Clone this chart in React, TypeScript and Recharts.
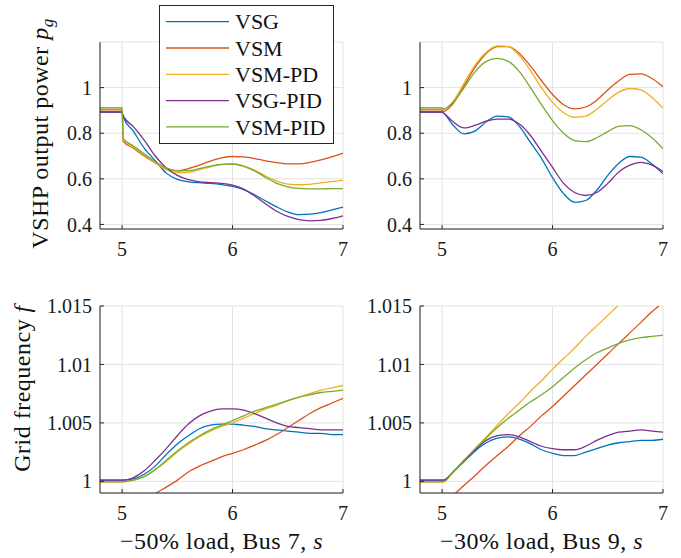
import React from 'react';
import { LineChart, Line, XAxis, YAxis, CartesianGrid, Legend } from 'recharts';

// sample times (s); 5.01 is the sample right after the load step
const time = [4.8, 4.9, 5, 5.01, 5.1, 5.2, 5.3, 5.4, 5.5, 5.6, 5.7, 5.8, 5.9, 6, 6.1, 6.2, 6.3, 6.4, 6.5, 6.6, 6.7, 6.8, 6.9, 7];

const seriesNames = ['VSG', 'VSM', 'VSM-PD', 'VSG-PID', 'VSM-PID'];
const colors = ['#0072BD', '#D95319', '#EDB120', '#7E2F8E', '#77AC30'];

const xTicks = [5, 6, 7];
const powerTicks = [0.4, 0.6, 0.8, 1];
const freqTicks = [1, 1.005, 1.01, 1.015];

// VSHP output power, -50% load at bus 7
const powerBus7Vsg = [0.893, 0.893, 0.893, 0.87, 0.81, 0.735, 0.68, 0.625, 0.598, 0.587, 0.583, 0.58, 0.575, 0.567, 0.553, 0.53, 0.503, 0.477, 0.455, 0.443, 0.445, 0.452, 0.464, 0.476];
const powerBus7Vsm = [0.902, 0.902, 0.902, 0.764, 0.735, 0.7, 0.67, 0.645, 0.636, 0.645, 0.66, 0.678, 0.692, 0.698, 0.696, 0.689, 0.679, 0.671, 0.666, 0.666, 0.672, 0.683, 0.697, 0.712];
const powerBus7VsmPd = [0.911, 0.911, 0.911, 0.77, 0.74, 0.705, 0.67, 0.64, 0.627, 0.628, 0.64, 0.653, 0.662, 0.665, 0.657, 0.638, 0.612, 0.59, 0.577, 0.574, 0.576, 0.582, 0.588, 0.593];
const powerBus7VsgPid = [0.893, 0.893, 0.893, 0.876, 0.83, 0.77, 0.7, 0.648, 0.615, 0.596, 0.587, 0.583, 0.58, 0.572, 0.555, 0.525, 0.49, 0.458, 0.435, 0.421, 0.416, 0.418, 0.426, 0.438];
const powerBus7VsmPid = [0.911, 0.911, 0.911, 0.776, 0.745, 0.71, 0.675, 0.648, 0.635, 0.636, 0.645, 0.656, 0.663, 0.665, 0.655, 0.635, 0.606, 0.58, 0.565, 0.558, 0.556, 0.556, 0.557, 0.557];

// VSHP output power, -30% load at bus 9
const powerBus9Vsg = [0.893, 0.893, 0.893, 0.89, 0.835, 0.797, 0.81, 0.85, 0.875, 0.872, 0.83, 0.76, 0.69, 0.605, 0.535, 0.497, 0.505, 0.55, 0.615, 0.668, 0.698, 0.695, 0.665, 0.622];
const powerBus9Vsm = [0.902, 0.902, 0.902, 0.895, 0.93, 1.01, 1.09, 1.15, 1.18, 1.18, 1.15, 1.095, 1.03, 0.97, 0.925, 0.907, 0.915, 0.945, 0.99, 1.03, 1.058, 1.06, 1.04, 1.004];
const powerBus9VsmPd = [0.911, 0.911, 0.911, 0.905, 0.94, 1.02, 1.1, 1.155, 1.183, 1.18, 1.14, 1.075, 1.0, 0.935, 0.89, 0.87, 0.875, 0.905, 0.945, 0.98, 0.996, 0.99, 0.957, 0.91];
const powerBus9VsgPid = [0.893, 0.893, 0.893, 0.89, 0.85, 0.823, 0.835, 0.853, 0.862, 0.862, 0.84, 0.79, 0.72, 0.65, 0.58, 0.54, 0.527, 0.54, 0.58, 0.63, 0.66, 0.672, 0.66, 0.632];
const powerBus9VsmPid = [0.911, 0.911, 0.911, 0.905, 0.935, 1.0, 1.07, 1.115, 1.128, 1.115, 1.07, 1.0, 0.925, 0.855, 0.8, 0.768, 0.763, 0.78, 0.807, 0.83, 0.833, 0.815, 0.78, 0.732];

// grid frequency, -50% load at bus 7
const freqBus7Vsg = [1.0001, 1.0001, 1.0001, 1.0001, 1.0002, 1.0006, 1.0013, 1.0023, 1.0032, 1.0039, 1.0045, 1.0048, 1.0049, 1.0049, 1.0048, 1.0047, 1.0045, 1.0044, 1.0043, 1.0042, 1.0041, 1.0041, 1.004, 1.004];
const freqBus7Vsm = [0.997, 0.997, 0.997, 0.997, 0.9976, 0.9983, 0.99895, 0.9995, 1.0001, 1.0008, 1.0013, 1.0017, 1.0021, 1.0024, 1.0027, 1.0031, 1.0035, 1.004, 1.0046, 1.0052, 1.0058, 1.0063, 1.0067, 1.0071];
const freqBus7VsmPd = [0.99995, 0.99995, 0.99995, 0.99995, 1.0001, 1.0004, 1.001, 1.0017, 1.0025, 1.0032, 1.0038, 1.0043, 1.0047, 1.005, 1.0054, 1.0058, 1.0062, 1.0065, 1.0069, 1.0072, 1.0075, 1.0078, 1.008, 1.0082];
const freqBus7VsgPid = [1.0001, 1.0001, 1.0001, 1.0001, 1.0003, 1.0009, 1.0018, 1.0028, 1.0039, 1.0049, 1.0056, 1.006, 1.0062, 1.0062, 1.0061, 1.0058, 1.0054, 1.005, 1.0047, 1.0046, 1.0045, 1.0044, 1.0044, 1.0044];
const freqBus7VsmPid = [0.99995, 0.99995, 0.99995, 0.99995, 1.0001, 1.0004, 1.001, 1.0018, 1.0026, 1.0033, 1.0039, 1.0044, 1.0048, 1.0052, 1.0056, 1.006, 1.0063, 1.0066, 1.0069, 1.0072, 1.0074, 1.0076, 1.0077, 1.0078];

// grid frequency, -30% load at bus 9
const freqBus9Vsg = [1.0001, 1.0001, 1.0001, 1.0001, 1.0008, 1.0017, 1.0026, 1.0033, 1.0037, 1.0038, 1.0036, 1.0032, 1.0027, 1.0024, 1.0022, 1.0022, 1.0025, 1.0028, 1.0031, 1.0033, 1.0034, 1.0035, 1.0035, 1.0036];
const freqBus9Vsm = [0.998, 0.998, 0.998, 0.998, 0.9988, 0.99967, 1.0005, 1.0014, 1.0022, 1.003, 1.0039, 1.0047, 1.0056, 1.0064, 1.0073, 1.0082, 1.0091, 1.01, 1.0109, 1.0118, 1.0127, 1.0136, 1.0145, 1.0153];
const freqBus9VsmPd = [0.99995, 0.99995, 0.99995, 0.99995, 1.0008, 1.0018, 1.0028, 1.0038, 1.0048, 1.0058, 1.0067, 1.0077, 1.0086, 1.0096, 1.0105, 1.0114, 1.0124, 1.0133, 1.0142, 1.0151, 1.016, 1.0169, 1.0178, 1.0187];
const freqBus9VsgPid = [1.0001, 1.0001, 1.0001, 1.0001, 1.0008, 1.0018, 1.0027, 1.0035, 1.0039, 1.004, 1.0038, 1.0034, 1.003, 1.0028, 1.0027, 1.0027, 1.003, 1.0035, 1.0039, 1.0042, 1.0043, 1.0044, 1.0043, 1.0042];
const freqBus9VsmPid = [0.99995, 0.99995, 0.99995, 0.99995, 1.0008, 1.0018, 1.0028, 1.0037, 1.0046, 1.0054, 1.0061, 1.0068, 1.0074, 1.0081, 1.0089, 1.0097, 1.0104, 1.011, 1.0114, 1.0118, 1.0121, 1.0123, 1.0124, 1.0125];

const toRows = (cols: number[][]) =>
  time.map((t, i) => {
    const row: any = { t };
    seriesNames.forEach((n, k) => (row[n] = cols[k][i]));
    return row;
  });

const powerBus7 = toRows([powerBus7Vsg, powerBus7Vsm, powerBus7VsmPd, powerBus7VsgPid, powerBus7VsmPid]);
const powerBus9 = toRows([powerBus9Vsg, powerBus9Vsm, powerBus9VsmPd, powerBus9VsgPid, powerBus9VsmPid]);
const freqBus7 = toRows([freqBus7Vsg, freqBus7Vsm, freqBus7VsmPd, freqBus7VsgPid, freqBus7VsmPid]);
const freqBus9 = toRows([freqBus9Vsg, freqBus9Vsm, freqBus9VsmPd, freqBus9VsgPid, freqBus9VsmPid]);

const FONT = "'Liberation Serif', 'Times New Roman', serif";
const AXIS = '#262626';
const GRID = '#e2e2e2';
const tickStyle = { fill: '#1a1a1a', fontSize: 20, fontFamily: FONT };

const renderLegend = (props: any) => {
  const payload = props.payload || [];
  const items = seriesNames.map((n) => payload.find((p: any) => p.value === n)).filter(Boolean);
  return (
    <svg width={175} height={139} style={{ display: 'block' }}>
      <rect x={0.5} y={0.5} width={174} height={138} fill="#fff" stroke={AXIS} strokeWidth={1} />
      {items.map((e: any, i: number) => {
        const y = 16.7 + i * 26.3;
        return (
          <g key={e.value}>
            <line x1={7} x2={70} y1={y} y2={y} stroke={e.color} strokeWidth={1.3} />
            <text x={76} y={y} dy="0.35em" fontSize={22} fontFamily={FONT} fill="#111">
              {e.value}
            </text>
          </g>
        );
      })}
    </svg>
  );
};

const xTitle = (load: string, bus: string) => (p: any) => {
  const vb = p.viewBox;
  return (
    <text
      x={vb.x + vb.width / 2}
      y={vb.y + 56}
      textAnchor="middle"
      fontSize={24}
      letterSpacing={0.5}
      fontFamily={FONT}
      fill="#111"
    >
      {`\u2212${load}% load, Bus ${bus}, `}
      <tspan fontStyle="italic">s</tspan>
    </text>
  );
};

const yTitlePower = (p: any) => {
  const vb = p.viewBox;
  const x = 48;
  const y = vb.y + vb.height / 2 - 2;
  return (
    <text x={x} y={y} transform={`rotate(-90 ${x} ${y})`} textAnchor="middle" fontSize={24} letterSpacing={0.5} fontFamily={FONT} fill="#111">
      {'VSHP output power '}
      <tspan fontStyle="italic">p</tspan>
      <tspan fontStyle="italic" fontSize={17} dy={5}>g</tspan>
    </text>
  );
};

const yTitleFreq = (p: any) => {
  const vb = p.viewBox;
  const x = 30;
  const y = vb.y + vb.height / 2 - 11;
  return (
    <text x={x} y={y} transform={`rotate(-90 ${x} ${y})`} textAnchor="middle" fontSize={24} letterSpacing={0.5} fontFamily={FONT} fill="#111">
      {'Grid frequency '}
      <tspan fontStyle="italic">f</tspan>
    </text>
  );
};

type PanelProps = {
  rows: any[];
  left: number;
  top: number;
  width: number;
  height: number;
  axisWidth: number;
  marginTop: number;
  marginRight: number;
  xAxisHeight: number;
  yDomain: number[];
  yTicks: number[];
  xLabel: any;
  yLabel?: any;
  legend?: boolean;
};

const Panel = (p: PanelProps) => (
  <div style={{ position: 'absolute', left: p.left, top: p.top }}>
    <LineChart
      width={p.width}
      height={p.height}
      data={p.rows}
      margin={{ top: p.marginTop, right: p.marginRight, left: 0, bottom: 0 }}
    >
      <CartesianGrid stroke={GRID} strokeWidth={1} />
      <XAxis
        dataKey="t"
        type="number"
        domain={[4.8, 7]}
        ticks={xTicks}
        allowDataOverflow
        height={p.xAxisHeight}
        stroke={AXIS}
        tickSize={-4}
        tickMargin={17}
        tick={tickStyle}
        label={p.xLabel}
      />
      <YAxis
        type="number"
        domain={p.yDomain}
        ticks={p.yTicks}
        allowDataOverflow
        width={p.axisWidth}
        stroke={AXIS}
        tickSize={-4}
        tickMargin={12}
        tick={tickStyle}
        label={p.yLabel}
      />
      {p.legend && (
        <Legend
          layout="vertical"
          align="center"
          verticalAlign="middle"
          content={renderLegend}
          wrapperStyle={{ left: 159, top: 5, width: 175, height: 139 }}
        />
      )}
      {seriesNames.map((n, i) => (
        <Line
          key={n}
          dataKey={n}
          name={n}
          type="monotone"
          stroke={colors[i]}
          strokeWidth={1.3}
          dot={false}
          activeDot={false}
          isAnimationActive={false}
        />
      ))}
    </LineChart>
  </div>
);

export default function App() {
  return (
    <div style={{ position: 'absolute', left: 0, top: 0, width: 681, height: 558, background: '#fff' }}>
      <Panel
        rows={powerBus7}
        left={0}
        top={0}
        width={350}
        height={270}
        axisWidth={100}
        marginTop={42}
        marginRight={7}
        xAxisHeight={41}
        yDomain={[0.38, 1.2]}
        yTicks={powerTicks}
        xLabel={undefined}
        yLabel={yTitlePower}
        legend
      />
      <Panel
        rows={powerBus9}
        left={350}
        top={0}
        width={331}
        height={270}
        axisWidth={70}
        marginTop={42}
        marginRight={18}
        xAxisHeight={41}
        yDomain={[0.38, 1.2]}
        yTicks={powerTicks}
        xLabel={undefined}
      />
      <Panel
        rows={freqBus7}
        left={0}
        top={270}
        width={350}
        height={288}
        axisWidth={100}
        marginTop={36}
        marginRight={7}
        xAxisHeight={65}
        yDomain={[0.999, 1.015]}
        yTicks={freqTicks}
        xLabel={xTitle('50', '7')}
        yLabel={yTitleFreq}
      />
      <Panel
        rows={freqBus9}
        left={350}
        top={270}
        width={331}
        height={288}
        axisWidth={70}
        marginTop={36}
        marginRight={18}
        xAxisHeight={65}
        yDomain={[0.999, 1.015]}
        yTicks={freqTicks}
        xLabel={xTitle('30', '9')}
      />
    </div>
  );
}
